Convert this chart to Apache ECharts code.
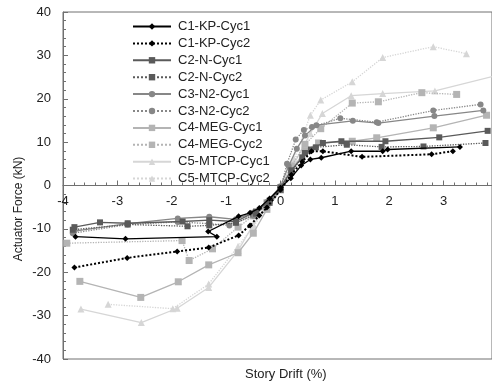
<!DOCTYPE html>
<html><head><meta charset="utf-8">
<script src="https://cdn.jsdelivr.net/npm/echarts@6/dist/echarts.min.js"></script>
<style>html,body{margin:0;padding:0;background:#fff}#c{width:492px;height:387px}</style>
</head><body><div id="c"></div>
<script>
const seriesNames = ['C1-KP-Cyc1','C1-KP-Cyc2','C2-N-Cyc1','C2-N-Cyc2','C3-N2-Cyc1','C3-N2-Cyc2','C4-MEG-Cyc1','C4-MEG-Cyc2','C5-MTCP-Cyc1','C5-MTCP-Cyc2'];
const xTicks = [-4,-3,-2,-1,0,1,2,3];
const yTicks = [-40,-30,-20,-10,0,10,20,30,40];

const C1_KP_Cyc1 = [[-3.77,-11.8],[-2.85,-12.3],[-1.17,-11.8],[-1.33,-10.6],[-0.77,-7.1],[-0.56,-6.3],[-0.39,-5.2],[-0.2,-3.0],[0.0,-0.5],[0.19,1.7],[0.38,4.6],[0.55,6.0],[0.75,6.4],[1.30,7.9],[1.88,7.9],[1.97,8.3],[3.30,8.9]];
const C1_KP_Cyc2 = [[-3.79,-18.9],[-2.82,-16.7],[-1.90,-15.2],[-1.32,-14.3],[-0.77,-11.5],[-0.56,-9.2],[-0.39,-6.9],[-0.25,-5.1],[0.0,-1.0],[0.2,2.5],[0.4,5.5],[0.57,7.9],[0.78,7.9],[1.50,6.6],[2.78,7.2],[3.17,7.9]];
const C2_N_Cyc1 = [[-3.79,-9.6],[-3.32,-8.5],[-2.81,-8.7],[-1.80,-8.3],[-1.31,-8.0],[-0.82,-8.3],[-0.45,-6.0],[-0.2,-3.5],[0.0,-0.5],[0.2,3.5],[0.4,6.5],[0.56,8.3],[0.78,9.8],[1.12,10.2],[1.93,10.2],[2.92,11.1],[3.81,12.6]];
const C2_N_Cyc2 = [[-3.82,-10.2],[-2.81,-9.0],[-1.71,-9.4],[-1.31,-9.2],[-0.82,-8.6],[-0.45,-6.5],[-0.2,-4.0],[0.0,-1.0],[0.2,3.0],[0.45,7.5],[0.65,8.8],[1.22,9.4],[1.86,8.9],[2.63,9.0],[3.77,9.8]];
const C3_N2_Cyc1 = [[-3.79,-10.5],[-2.81,-8.8],[-1.89,-7.6],[-1.31,-7.2],[-0.82,-7.8],[-0.5,-6.2],[-0.25,-3.8],[0.0,-0.2],[0.15,4.5],[0.3,8.5],[0.45,11.5],[0.66,13.9],[1.33,14.9],[1.80,14.4],[2.83,16.0],[3.73,17.3]];
const C3_N2_Cyc2 = [[-3.82,-11.0],[-2.81,-9.0],[-1.89,-8.4],[-1.31,-8.8],[-0.94,-9.2],[-0.5,-7.0],[-0.25,-4.5],[0.0,-0.8],[0.12,5.0],[0.28,10.6],[0.43,12.8],[0.58,13.5],[1.10,15.5],[1.77,14.6],[2.81,17.3],[3.68,18.7]];
const C4_MEG_Cyc1 = [[-3.69,-22.1],[-2.57,-25.8],[-1.88,-22.2],[-1.32,-18.3],[-0.78,-15.5],[-0.5,-11.0],[-0.25,-5.5],[0.0,-1.0],[0.2,3.5],[0.45,8.0],[0.7,9.8],[1.32,10.2],[1.77,11.0],[2.81,13.3],[3.79,16.2]];
const C4_MEG_Cyc2 = [[-3.93,-13.3],[-1.81,-12.7],[-1.68,-17.3],[-1.25,-14.6],[-0.78,-9.6],[-0.5,-7.0],[-0.25,-4.0],[0.0,-0.5],[0.2,4.5],[0.45,9.5],[0.74,13.1],[1.32,19.0],[1.80,19.3],[2.60,21.4],[3.24,21.0]];
const C5_MTCP_Cyc1 = [[-3.67,-28.5],[-2.56,-31.6],[-1.90,-28.3],[-1.32,-23.5],[-0.78,-15.0],[-0.5,-9.0],[-0.25,-4.5],[0.0,-0.5],[0.25,5.0],[0.55,12.0],[0.77,16.6],[1.30,20.7],[1.88,21.2],[2.84,21.8],[3.95,25.3]];
const C5_MTCP_Cyc2 = [[-3.17,-27.4],[-1.98,-28.4],[-1.32,-22.7],[-0.78,-14.0],[-0.5,-9.5],[-0.25,-5.0],[0.0,-1.0],[0.25,6.0],[0.55,16.2],[0.74,19.7],[1.32,23.9],[1.88,29.5],[2.81,32.0],[3.42,30.4]];

const allData = [C1_KP_Cyc1,C1_KP_Cyc2,C2_N_Cyc1,C2_N_Cyc2,C3_N2_Cyc1,C3_N2_Cyc2,C4_MEG_Cyc1,C4_MEG_Cyc2,C5_MTCP_Cyc1,C5_MTCP_Cyc2];
const colors = ['#000000','#000000','#5a5a5a','#5a5a5a','#878787','#878787','#b4b4b4','#b4b4b4','#d6d6d6','#d6d6d6'];
const symbols = ['diamond','diamond','rect','rect','circle','circle','rect','rect','triangle','triangle'];
const sizes = [6,6,6,6,6,6,7,7,7,7];

const chart = echarts.init(document.getElementById('c'), null, {renderer:'canvas'});
const textColor = '#222';
const axisColor = '#707070';
const font = 'Liberation Sans';
const series = seriesNames.map((n,i)=>({
  name:n, type:'line', data:allData[i], symbol:symbols[i], symbolSize:sizes[i],
  showAllSymbol:true,
  lineStyle:{color:colors[i], width: i===1?2:1.3, type: i%2===1?'dotted':'solid'},
  itemStyle:{color:colors[i]},
  emphasis:{disabled:true}, z: 10-i
}));
chart.setOption({
  animation:false,
  grid:{left:63, right:-2, top:12, bottom:28, show:true, borderColor:axisColor, borderWidth:1},
  title:{text:'Story Drift (%)', left:240, top:363, textStyle:{fontSize:13, fontWeight:'normal', color:textColor, fontFamily:font}},
  graphic:[{type:'text', x:19, y:209, rotation:Math.PI/2,
    style:{text:'Actuator Force (kN)', fontSize:12, fontFamily:font, fill:textColor, align:'center', verticalAlign:'middle'}}],
  legend:{orient:'vertical', left:127, top:15, itemWidth:38, itemHeight:8, itemGap:3.9,
    textStyle:{fontSize:13, color:textColor, fontFamily:font, padding:[0,0,0,2]}, data:seriesNames},
  xAxis:{type:'value', min:-4, max:3.89, interval:1, position:'bottom', offset:-173.5,
    axisLine:{show:true, onZero:false, lineStyle:{color:axisColor}},
    axisTick:{show:true, inside:true, length:5, lineStyle:{color:axisColor}},
    minorTick:{show:true, splitNumber:5, length:3, lineStyle:{color:axisColor}},
    splitLine:{show:false},
    axisLabel:{showMaxLabel:false, margin:9, fontSize:13, color:textColor, fontFamily:font,
      formatter:v=> xTicks.includes(Math.round(v*100)/100)? String(Math.round(v)) : ''}
  },
  yAxis:{type:'value', min:-40, max:40, interval:10,
    axisLine:{show:true, onZero:false, lineStyle:{color:axisColor}},
    axisTick:{show:true, inside:true, length:5, lineStyle:{color:axisColor}},
    minorTick:{show:true, splitNumber:5, length:3, lineStyle:{color:axisColor}},
    splitLine:{show:false},
    axisLabel:{margin:12, fontSize:13, color:textColor, fontFamily:font,
      formatter:v=> yTicks.includes(v)? String(v):''}
  },
  series:series
});
</script></body></html>
